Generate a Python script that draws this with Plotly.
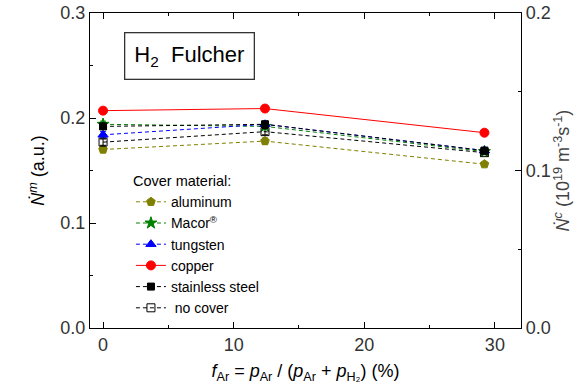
import plotly.graph_objects as go

f_ar = [0, 12.4, 29.2]
aluminum = [0.170, 0.178, 0.156]
macor = [0.194, 0.192, 0.168]
tungsten = [0.184, 0.194, 0.169]
copper = [0.207, 0.209, 0.186]
stainless = [0.192, 0.194, 0.169]
no_cover = [0.177, 0.187, 0.167]
err = [0.003, 0.003, 0.002]

series = [
    ("aluminum", aluminum, "#808000", "pentagon", "dash", 9),
    ("Macor<sup>®</sup>", macor, "#008000", "star", "dash", 9),
    ("tungsten", tungsten, "#0000ff", "triangle-up", "dash", 9),
    ("copper", copper, "#ff0000", "circle", "solid", 9),
    ("stainless steel", stainless, "#000000", "square", "dash", 7),
    (" no cover", no_cover, "#000000", "square-open", "dash", 8),
]

fig = go.Figure()
for name, vals, col, sym, dash, sz in series:
    fig.add_trace(go.Scatter(
        x=f_ar, y=vals, name=name, mode="lines+markers",
        line=dict(color=col, width=1, dash="4px,3px" if dash == "dash" else "solid"),
        marker=dict(symbol=sym, size=sz, color=col,
                    line=dict(color=col, width=1)),
        error_y=dict(type="data", array=err, color=col, thickness=1, width=3),
    ))

# dummy trace to activate right axis
fig.add_trace(go.Scatter(x=[None], y=[None], yaxis="y2", showlegend=False, hoverinfo="skip"))

axis_common = dict(
    showline=True, linecolor="black", linewidth=1.3,
    ticks="inside", ticklen=6, tickwidth=1.3, tickcolor="black",
    showgrid=False, zeroline=False, automargin=False,
    tickfont=dict(size=18, color="#333333"),
)

fig.update_layout(
    width=581, height=392,
    margin=dict(l=90, r=60, t=13, b=64),
    paper_bgcolor="white", plot_bgcolor="white",
    font=dict(family="Liberation Sans, Arial", color="black"),
    xaxis=dict(
        range=[-1, 32], tickvals=[0, 10, 20, 30], mirror="ticks",
        minor=dict(tickvals=[5, 15, 25], ticks="inside", ticklen=3, tickwidth=1.3, tickcolor="black"),
        title=dict(text="<i>f</i><sub>Ar</sub> = <i>p</i><sub>Ar</sub> / (<i>p</i><sub>Ar</sub> + <i>p</i><sub>H₂</sub>) (%)",
                   font=dict(size=18, color="black"), standoff=10),
        **axis_common,
    ),
    yaxis=dict(
        range=[0, 0.3], tickvals=[0, 0.1, 0.2, 0.3], ticktext=["0.0", "0.1", "0.2", "0.3"],
        minor=dict(tickvals=[0.05, 0.15, 0.25], ticks="inside", ticklen=3, tickwidth=1.3, tickcolor="black"),
        title=dict(text="<i>Ṅ</i><sup><i>m</i></sup> (a.u.)", font=dict(size=18, color="black"), standoff=10),
        mirror=False,
        **axis_common,
    ),
    yaxis2=dict(
        overlaying="y", side="right", anchor="x",
        range=[0, 0.2], tickvals=[0, 0.1, 0.2], ticktext=["0.0", "0.1", "0.2"],
        minor=dict(tickvals=[0.05, 0.15], ticks="inside", ticklen=3, tickwidth=1.3, tickcolor="black"),
        title=dict(text="<i>Ṅ</i><sup><i>c</i></sup> (10<sup>19</sup> m<sup>-3</sup>s<sup>-1</sup>)",
                   font=dict(size=18, color="#444444"), standoff=2),
        mirror=False,
        **axis_common,
    ),
    legend=dict(
        title=dict(text="Cover material:", font=dict(size=14.5, color="black")),
        x=0.095, y=0.51, xanchor="left", yanchor="top",
        bgcolor="rgba(0,0,0,0)", font=dict(size=14, color="black"),
        tracegroupgap=0, itemwidth=30,
    ),
    showlegend=True,
    annotations=[dict(
        text="H<sub>2</sub>  Fulcher", x=0.2297, y=0.863, xref="paper", yref="paper",
        xanchor="center", yanchor="middle",
        showarrow=False, font=dict(size=22, color="black"),
        bordercolor="#333333", borderwidth=1.3, borderpad=9, bgcolor="white",
    )],
)

fig.write_html("out.html")
